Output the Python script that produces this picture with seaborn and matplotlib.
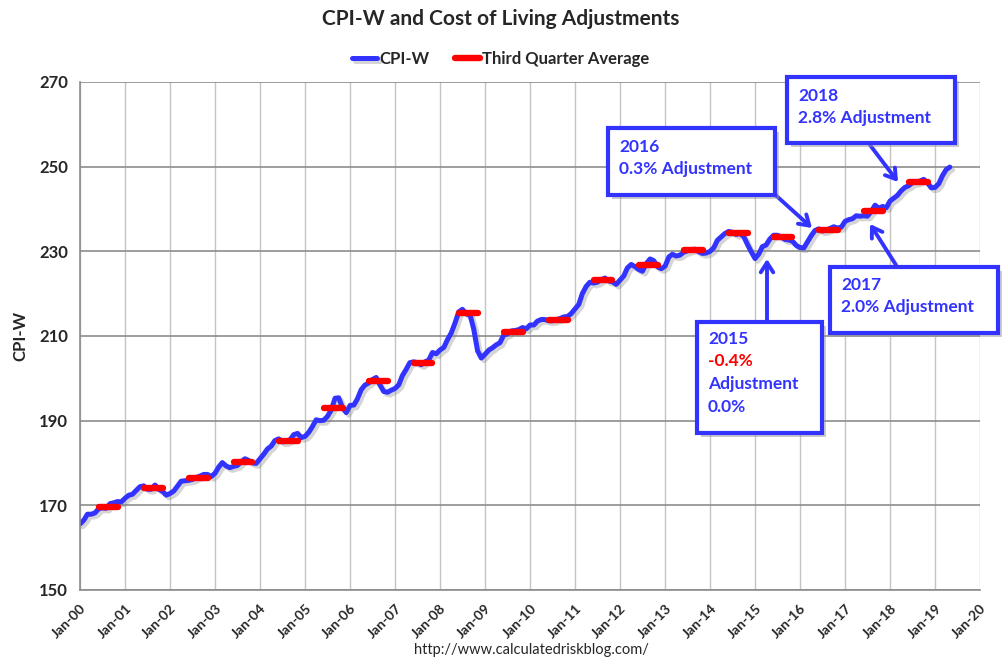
import pandas as pd
import numpy as np
import matplotlib
matplotlib.use('Agg')
import matplotlib.pyplot as plt
import matplotlib.dates as mdates
import matplotlib.patheffects as pe
from matplotlib.patches import Rectangle
import seaborn as sns

# monthly CPI-W, Jan 2000 - May 2019
cpiw_2000 = [165.6, 166.5, 167.9, 167.9, 168.2, 169.2, 169.4, 169.3, 170.4, 170.6, 170.9, 170.8]
cpiw_2001 = [171.7, 172.4, 172.6, 173.5, 174.4, 174.6, 173.8, 173.8, 174.8, 173.8, 173.3, 172.4]
cpiw_2002 = [172.8, 173.4, 174.5, 175.7, 175.8, 175.9, 176.1, 176.6, 176.9, 177.3, 177.3, 176.8]
cpiw_2003 = [177.6, 179.1, 180.1, 179.3, 178.9, 179.2, 179.4, 180.3, 181.0, 180.6, 180.0, 179.9]
cpiw_2004 = [181.0, 182.1, 183.3, 184.0, 185.3, 185.7, 185.0, 185.1, 185.5, 186.7, 187.0, 186.0]
cpiw_2005 = [186.3, 187.3, 188.6, 190.2, 190.0, 190.1, 191.0, 192.5, 195.3, 195.4, 193.0, 191.9]
cpiw_2006 = [193.6, 193.7, 195.1, 197.3, 198.4, 198.9, 199.7, 200.2, 198.4, 196.9, 196.7, 197.2]
cpiw_2007 = [197.6, 198.5, 200.6, 202.1, 203.7, 203.9, 203.7, 203.2, 203.9, 204.3, 206.1, 205.8]
cpiw_2008 = [206.7, 207.3, 209.1, 210.7, 213.0, 215.7, 216.3, 215.2, 215.0, 211.6, 206.5, 204.8]
cpiw_2009 = [205.7, 206.7, 207.2, 207.9, 208.4, 210.2, 210.5, 211.2, 211.3, 211.5, 212.0, 211.7]
cpiw_2010 = [212.6, 212.6, 213.5, 213.9, 213.9, 213.6, 213.6, 213.9, 214.1, 214.5, 214.6, 215.3]
cpiw_2011 = [216.4, 217.5, 220.0, 221.7, 222.7, 222.5, 222.7, 223.3, 223.7, 223.0, 222.8, 222.2]
cpiw_2012 = [223.2, 224.2, 226.1, 226.9, 226.4, 225.7, 225.3, 227.1, 228.2, 227.8, 226.3, 225.9]
cpiw_2013 = [226.5, 228.7, 229.3, 228.9, 229.1, 229.8, 230.1, 230.4, 230.5, 229.9, 229.5, 229.6]
cpiw_2014 = [230.0, 230.9, 232.6, 233.4, 234.2, 234.7, 234.5, 234.0, 234.2, 233.5, 231.6, 229.9]
cpiw_2015 = [228.3, 229.4, 231.1, 231.5, 232.9, 233.8, 233.8, 233.4, 232.8, 232.7, 232.4, 231.4]
cpiw_2016 = [230.9, 230.8, 232.2, 233.7, 234.9, 235.3, 234.8, 235.0, 235.4, 235.8, 235.5, 235.7]
cpiw_2017 = [237.1, 237.5, 237.7, 238.4, 238.3, 238.4, 238.3, 239.4, 240.9, 240.2, 240.6, 240.3]
cpiw_2018 = [241.9, 242.6, 243.2, 244.3, 245.1, 245.5, 246.2, 246.3, 246.6, 247.0, 246.2, 245.0]
cpiw_2019 = [245.1, 246.0, 247.8, 249.3, 249.9]

years = list(range(2000, 2020))
yearly = [cpiw_2000, cpiw_2001, cpiw_2002, cpiw_2003, cpiw_2004, cpiw_2005, cpiw_2006,
          cpiw_2007, cpiw_2008, cpiw_2009, cpiw_2010, cpiw_2011, cpiw_2012, cpiw_2013,
          cpiw_2014, cpiw_2015, cpiw_2016, cpiw_2017, cpiw_2018, cpiw_2019]

values = [v for yr in yearly for v in yr]
df = pd.DataFrame({'date': pd.date_range('2000-01-01', periods=len(values), freq='MS'),
                   'CPI-W': values})

# third quarter average (Jul-Sep) for each full year
q3 = pd.DataFrame({'year': years[:-1],
                   'avg': [np.mean(yr[6:9]) for yr in yearly[:-1]]})

BLUE = '#3333FF'
RED = '#FF0000'

sns.set_style('white')
plt.rcParams['font.family'] = ['Lato', 'DejaVu Sans']

fig = plt.figure(figsize=(10.02, 6.65), dpi=100)
ax = fig.add_axes([80 / 1002, 1 - 590 / 665, 900 / 1002, 508 / 665])

sns.lineplot(data=df, x='date', y='CPI-W', ax=ax, color=BLUE, lw=3.6,
             solid_joinstyle='round', solid_capstyle='round', label='CPI-W',
             path_effects=[pe.SimpleLineShadow(offset=(2, -2), shadow_color='#888888', alpha=0.35),
                           pe.Normal()])

for i, row in q3.iterrows():
    y = int(row['year'])
    ax.plot([pd.Timestamp(y, 6, 1), pd.Timestamp(y, 11, 1)], [row['avg'], row['avg']],
            color=RED, lw=4.6, solid_capstyle='round', zorder=5,
            label='Third Quarter Average' if i == 0 else None)

ax.set_xlim(pd.Timestamp('2000-01-01'), pd.Timestamp('2020-01-01'))
ax.set_ylim(150, 270)
ax.set_yticks(range(150, 271, 20))
ax.xaxis.set_major_locator(mdates.YearLocator())
ax.xaxis.set_major_formatter(mdates.DateFormatter('%b-%y'))
ax.xaxis.grid(True, color='#C4C4C4', lw=1)
ax.yaxis.grid(True, color='#8C8C8C', lw=1.2)
ax.set_axisbelow(True)
for s in ['top', 'right']:
    ax.spines[s].set_visible(False)
for s in ['left', 'bottom']:
    ax.spines[s].set_color('#8C8C8C')
    ax.spines[s].set_linewidth(1.2)
ax.tick_params(axis='both', length=5, color='#8C8C8C', width=1.2)
ax.tick_params(axis='y', labelsize=12)
ax.tick_params(axis='x', labelsize=10)
for lbl in ax.get_yticklabels():
    lbl.set_fontweight('bold')
for lbl in ax.get_xticklabels():
    lbl.set_fontweight('bold')
    lbl.set_rotation(45)
    lbl.set_ha('right')
    lbl.set_rotation_mode('anchor')
ax.set_xlabel('')
ax.set_ylabel('CPI-W', fontsize=12, fontweight='bold', labelpad=8)

ax.legend(loc='upper center', bbox_to_anchor=(0.5, 1 - 36 / 665), bbox_transform=fig.transFigure,
          ncol=2, frameon=False, handlelength=1.5, handletextpad=0.15, columnspacing=1.5,
          prop={'weight': 'bold', 'size': 12})

fig.text(0.5, 1 - 19 / 665, 'CPI-W and Cost of Living Adjustments', ha='center', va='center',
         fontsize=15, fontweight='bold')
fig.text(531 / 1002, 1 - 650 / 665, 'http://www.calculatedriskblog.com/', ha='center',
         va='center', fontsize=10.5)


def fp(x, y):
    return (x / 1002, 1 - y / 665)


def box(x0, y0, x1, y1):
    sh = Rectangle(fp(x0 + 4, y1 + 4), (x1 - x0) / 1002, (y1 - y0) / 665,
                   transform=fig.transFigure, facecolor='#999999', edgecolor='none',
                   alpha=0.5, zorder=8)
    fig.add_artist(sh)
    r = Rectangle(fp(x0, y1), (x1 - x0) / 1002, (y1 - y0) / 665, transform=fig.transFigure,
                  facecolor='white', edgecolor=BLUE, lw=3, zorder=9)
    fig.add_artist(r)


def arrow(x0, y0, x1, y1):
    ax.annotate('', xy=fp(x1, y1), xycoords='figure fraction', xytext=fp(x0, y0),
                textcoords='figure fraction', zorder=10,
                arrowprops=dict(arrowstyle='->,head_length=0.7,head_width=0.45',
                                color=BLUE, lw=2.8, shrinkA=0, shrinkB=0))


txt = dict(fontsize=12.5, fontweight='bold', color=BLUE, va='center', ha='left', zorder=11)

# 2016
box(608, 128, 775, 195)
fig.text(*fp(619, 147), '2016', **txt)
fig.text(*fp(619, 169), '0.3% Adjustment', **txt)
arrow(771, 191, 812, 228)

# 2018
box(787, 77, 955, 143)
fig.text(*fp(798, 96), '2018', **txt)
fig.text(*fp(798, 118), '2.8% Adjustment', **txt)
arrow(870, 145, 898, 182)

# 2017
box(830, 267, 998, 333)
fig.text(*fp(841, 285), '2017', **txt)
fig.text(*fp(841, 307), '2.0% Adjustment', **txt)
arrow(896, 265, 870, 224)

# 2015
box(697, 322, 822, 433)
fig.text(*fp(708, 339), '2015', **txt)
fig.text(*fp(708, 361), '-0.4%', **{**txt, 'color': RED})
fig.text(*fp(708, 384), 'Adjustment', **txt)
fig.text(*fp(708, 407), '0.0%', **txt)
arrow(767, 320, 767, 259)

fig.savefig('out.png', dpi=100)
